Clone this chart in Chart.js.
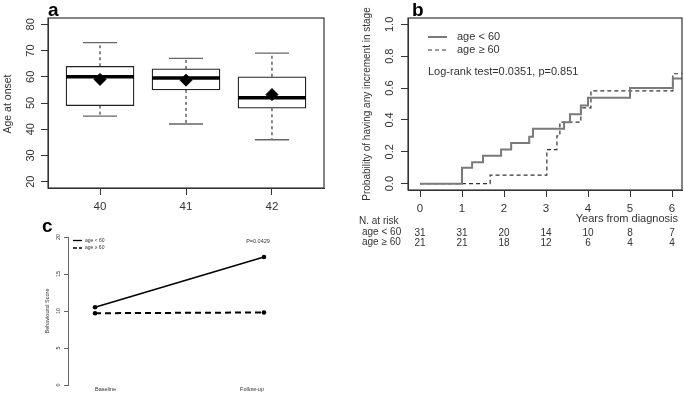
<!DOCTYPE html>
<html>
<head>
<meta charset="utf-8">
<script src="https://cdn.jsdelivr.net/npm/chart.js@4.4.1/dist/chart.umd.min.js"></script>
<style>
    html, body { margin: 0; padding: 0; background: #fff; }
    #wrap { position: relative; width: 684px; height: 393px; }
    canvas { position: absolute; left: 0; top: 0; }
</style>
</head>
<body>
<div id="wrap">
    <canvas id="chartA" width="684" height="393"></canvas>
    <canvas id="chartB" width="684" height="393"></canvas>
    <canvas id="chartC" width="684" height="393"></canvas>
</div>
<script>
// Panel a - age at onset per group (box plot)
const groups = [40, 41, 42];
const whiskerLow = [45, 42, 36];
const boxLow = [49, 55, 48];
const medians = [60, 59.5, 52];
const boxHigh = [64, 63, 60];
const whiskerHigh = [73, 67, 69];
const means = [59, 58.7, 53.2];
const ageTicks = [20, 30, 40, 50, 60, 70, 80];

// Panel b - cumulative probability of stage increment
const kmYears = [0, 1, 2, 3, 4, 5, 6];
const youngTimes = [0, 1, 1.24, 1.5, 1.93, 2.17, 2.6, 2.69, 3.43, 3.57, 3.83, 4.0, 5.0, 6.02, 6.3];
const youngProb = [0, 0.10, 0.135, 0.175, 0.215, 0.255, 0.295, 0.345, 0.385, 0.435, 0.49, 0.54, 0.60, 0.66, 0.66];
const oldTimes = [0, 1.67, 3.02, 3.26, 3.33, 3.83, 4.07, 6.02, 6.3];
const oldProb = [0, 0.053, 0.214, 0.30, 0.386, 0.476, 0.582, 0.69, 0.69];
const probTicks = [0, 0.2, 0.4, 0.6, 0.8, 1.0];
const atRiskYoung = [31, 31, 20, 14, 10, 8, 7];
const atRiskOld = [21, 21, 18, 12, 6, 4, 4];

// Panel c - behavioural score
const visits = ['Baseline', 'Follow-up'];
const scoreYoung = [10.5, 17.3];
const scoreOld = [9.7, 9.8];
const scoreTicks = [0, 5, 10, 15, 20];

const font = "'Liberation Sans', Arial, sans-serif";
const ink = '#333';
const xAxisRoom = 30;

// chart area is fixed through padding; y axes take no room, x axes a fixed strip
function area(left, top, right, bottom, xRoom) {
    return { padding: { left: left, top: top, right: 684 - right, bottom: 393 - bottom - (xRoom || 0) } };
}
const noWidth = s => { s.width = 0; };
const fixHeight = s => { s.height = xAxisRoom; };
const fixTicks = vals => s => { s.ticks = vals.map(v => ({ value: v })); };

const axisGrid = len => ({ drawOnChartArea: false, drawTicks: true, tickLength: len, color: ink, lineWidth: 1, offset: false });
const axisBorder = { display: true, color: ink, width: 1 };

function text(ctx, str, x, y, size, align, opts) {
    opts = opts || {};
    ctx.save();
    ctx.font = (opts.bold ? 'bold ' : '') + size + 'px ' + font;
    ctx.fillStyle = opts.color || ink;
    ctx.textAlign = align || 'left';
    ctx.textBaseline = opts.baseline || 'middle';
    ctx.translate(x, y);
    if (opts.rotate) ctx.rotate(-Math.PI / 2);
    ctx.fillText(str, 0, 0);
    ctx.restore();
}

function frame(chart) {
    const a = chart.chartArea, ctx = chart.ctx;
    ctx.save();
    ctx.strokeStyle = ink;
    ctx.lineWidth = 1.2;
    ctx.strokeRect(a.left, a.top, a.right - a.left, a.bottom - a.top);
    ctx.restore();
}

function rotYTicks(chart, vals, fmt, x, size) {
    const y = chart.scales.y;
    vals.forEach(v => text(chart.ctx, fmt(v), x, y.getPixelForValue(v), size, 'center', { rotate: true }));
}

// ---------- panel a ----------
const boxParts = {
    id: 'boxParts',
    afterDatasetDraw(chart, args) {
        if (args.index !== 0) return;
        const x = chart.scales.x, y = chart.scales.y, ctx = chart.ctx;
        ctx.save();
        groups.forEach((g, i) => {
            const px = x.getPixelForValue(g);
            // dashed whiskers
            ctx.strokeStyle = '#111';
            ctx.lineWidth = 1;
            ctx.setLineDash([3, 3]);
            ctx.beginPath();
            ctx.moveTo(px, y.getPixelForValue(boxHigh[i]));
            ctx.lineTo(px, y.getPixelForValue(whiskerHigh[i]));
            ctx.moveTo(px, y.getPixelForValue(boxLow[i]));
            ctx.lineTo(px, y.getPixelForValue(whiskerLow[i]));
            ctx.stroke();
            // caps
            ctx.setLineDash([]);
            ctx.strokeStyle = '#666';
            ctx.lineWidth = 1.3;
            ctx.beginPath();
            [whiskerHigh[i], whiskerLow[i]].forEach(v => {
                const py = y.getPixelForValue(v);
                ctx.moveTo(px - 17, py);
                ctx.lineTo(px + 17, py);
            });
            ctx.stroke();
            // median
            ctx.strokeStyle = '#000';
            ctx.lineWidth = 3.5;
            ctx.beginPath();
            const pm = y.getPixelForValue(medians[i]);
            ctx.moveTo(px - 34, pm);
            ctx.lineTo(px + 34, pm);
            ctx.stroke();
        });
        ctx.restore();
    },
    afterDraw(chart) {
        frame(chart);
        rotYTicks(chart, ageTicks, v => String(v), 31, 11);
        text(chart.ctx, 'Age at onset', 8, 104, 10.5, 'center', { rotate: true });
        text(chart.ctx, 'a', 48, 16, 19, 'left', { bold: true, baseline: 'alphabetic', color: '#000' });
    }
};

new Chart(document.getElementById('chartA'), {
    type: 'bar',
    data: {
        datasets: [
            {
                type: 'bar',
                data: groups.map((g, i) => ({ x: g, y: [boxLow[i], boxHigh[i]] })),
                backgroundColor: '#fff',
                borderColor: '#222',
                borderWidth: 1.3,
                borderSkipped: false,
                barThickness: 68,
                order: 1
            },
            {
                type: 'scatter',
                data: groups.map((g, i) => ({ x: g, y: means[i] })),
                pointStyle: 'rectRot',
                pointRadius: 6,
                backgroundColor: '#000',
                borderColor: '#000',
                order: 0
            }
        ]
    },
    options: {
        responsive: false,
        animation: false,
        layout: area(48, 18, 324, 188, xAxisRoom),
        plugins: { legend: { display: false }, tooltip: { enabled: false } },
        scales: {
            x: {
                type: 'linear',
                offset: false,
                min: 39.395,
                max: 42.605,
                afterFit: fixHeight,
                afterBuildTicks: fixTicks(groups),
                ticks: { font: { family: font, size: 11.5 }, color: ink, padding: 5, maxRotation: 0, callback: v => String(v) },
                grid: axisGrid(7),
                border: axisBorder
            },
            y: {
                min: 17.6,
                max: 82.4,
                afterFit: noWidth,
                afterBuildTicks: fixTicks(ageTicks),
                ticks: { display: false },
                grid: axisGrid(7),
                border: axisBorder
            }
        }
    },
    plugins: [boxParts]
});

// ---------- panel b ----------
const kmExtras = {
    id: 'kmExtras',
    afterDraw(chart) {
        const ctx = chart.ctx, a = chart.chartArea, x = chart.scales.x;
        frame(chart);
        rotYTicks(chart, probTicks, v => v.toFixed(1), 390, 11);
        text(ctx, 'Probability of having any increment in stage', 367, 104, 10, 'center', { rotate: true });
        text(ctx, 'b', 412, 16, 19, 'left', { bold: true, baseline: 'alphabetic', color: '#000' });

        // legend
        ctx.save();
        ctx.strokeStyle = '#7a7a7a';
        ctx.lineWidth = 2;
        ctx.beginPath();
        ctx.moveTo(a.left + 20, a.top + 19);
        ctx.lineTo(a.left + 39, a.top + 19);
        ctx.stroke();
        ctx.strokeStyle = '#333';
        ctx.lineWidth = 1.2;
        ctx.setLineDash([4, 3]);
        ctx.beginPath();
        ctx.moveTo(a.left + 20, a.top + 32);
        ctx.lineTo(a.left + 39, a.top + 32);
        ctx.stroke();
        ctx.restore();
        text(ctx, 'age < 60', a.left + 49, a.top + 19, 11, 'left');
        text(ctx, 'age \u2265 60', a.left + 49, a.top + 32, 11, 'left');
        text(ctx, 'Log-rank test=0.0351, p=0.851', a.left + 20, a.top + 54, 11, 'left');

        // numbers at risk
        text(ctx, 'Years from diagnosis', 678, 219, 11, 'right');
        text(ctx, 'N. at risk', 359, 221, 10, 'left');
        text(ctx, 'age < 60', 362, 232, 10, 'left');
        text(ctx, 'age \u2265 60', 362, 242, 10, 'left');
        kmYears.forEach((t, i) => {
            const px = x.getPixelForValue(t);
            text(ctx, String(atRiskYoung[i]), px, 233, 10, 'center');
            text(ctx, String(atRiskOld[i]), px, 243, 10, 'center');
        });
    }
};

new Chart(document.getElementById('chartB'), {
    type: 'line',
    data: {
        datasets: [
            {
                label: 'age < 60',
                data: youngTimes.map((t, i) => ({ x: t, y: youngProb[i] })),
                stepped: true,
                borderColor: '#7a7a7a',
                borderWidth: 2,
                pointRadius: 0,
                fill: false
            },
            {
                label: 'age \u2265 60',
                data: oldTimes.map((t, i) => ({ x: t, y: oldProb[i] })),
                stepped: true,
                borderColor: '#333',
                borderWidth: 1.2,
                borderDash: [4, 3],
                pointRadius: 0,
                fill: false
            }
        ]
    },
    options: {
        responsive: false,
        animation: false,
        layout: area(408, 18, 682, 190, xAxisRoom),
        plugins: { legend: { display: false }, tooltip: { enabled: false } },
        scales: {
            x: {
                type: 'linear',
                min: -0.286,
                max: 6.238,
                afterFit: fixHeight,
                afterBuildTicks: fixTicks(kmYears),
                ticks: { font: { family: font, size: 11.5 }, color: ink, padding: 5, maxRotation: 0, callback: v => String(v) },
                grid: axisGrid(7),
                border: axisBorder
            },
            y: {
                min: -0.04,
                max: 1.04,
                afterFit: noWidth,
                afterBuildTicks: fixTicks(probTicks),
                ticks: { display: false },
                grid: axisGrid(7),
                border: axisBorder
            }
        }
    },
    plugins: [kmExtras]
});

// ---------- panel c ----------
const scoreExtras = {
    id: 'scoreExtras',
    afterDraw(chart) {
        const ctx = chart.ctx, x = chart.scales.x;
        rotYTicks(chart, scoreTicks, v => String(v), 58, 5.5);
        text(ctx, 'Behavioural Score', 47, 311, 5.5, 'center', { rotate: true });
        text(ctx, 'c', 42, 232, 19, 'left', { bold: true, baseline: 'alphabetic', color: '#000' });
        text(ctx, visits[0], x.getPixelForValue(0), 389, 5.5, 'left');
        text(ctx, visits[1], x.getPixelForValue(1), 389, 5.5, 'right');
        text(ctx, 'P=0.0429', 258, 241, 5.5, 'center');

        // legend
        ctx.save();
        ctx.strokeStyle = '#000';
        ctx.lineWidth = 1.3;
        ctx.beginPath();
        ctx.moveTo(73, 240.5);
        ctx.lineTo(82, 240.5);
        ctx.stroke();
        ctx.setLineDash([4, 2]);
        ctx.beginPath();
        ctx.moveTo(73, 248);
        ctx.lineTo(82, 248);
        ctx.stroke();
        ctx.restore();
        text(ctx, 'age < 60', 85, 240.5, 5, 'left');
        text(ctx, 'age \u2265 60', 85, 248, 5, 'left');
    }
};

new Chart(document.getElementById('chartC'), {
    type: 'line',
    data: {
        datasets: [
            {
                label: 'age < 60',
                data: scoreYoung.map((v, i) => ({ x: i, y: v })),
                borderColor: '#000',
                borderWidth: 1.5,
                pointRadius: 2.3,
                pointBackgroundColor: '#000',
                pointBorderWidth: 0
            },
            {
                label: 'age \u2265 60',
                data: scoreOld.map((v, i) => ({ x: i, y: v })),
                borderColor: '#000',
                borderWidth: 2,
                borderDash: [6, 4],
                pointRadius: 2.3,
                pointBackgroundColor: '#000',
                pointBorderWidth: 0
            }
        ]
    },
    options: {
        responsive: false,
        animation: false,
        layout: area(68, 237, 280, 385),
        plugins: { legend: { display: false }, tooltip: { enabled: false } },
        scales: {
            x: {
                type: 'linear',
                min: -0.16,
                max: 1.095,
                display: false
            },
            y: {
                min: 0,
                max: 20,
                afterFit: noWidth,
                afterBuildTicks: fixTicks(scoreTicks),
                ticks: { display: false },
                grid: { drawOnChartArea: false, drawTicks: true, tickLength: 4, color: '#666', lineWidth: 1 },
                border: { display: true, color: '#666', width: 1 }
            }
        }
    },
    plugins: [scoreExtras]
});
</script>
</body>
</html>
